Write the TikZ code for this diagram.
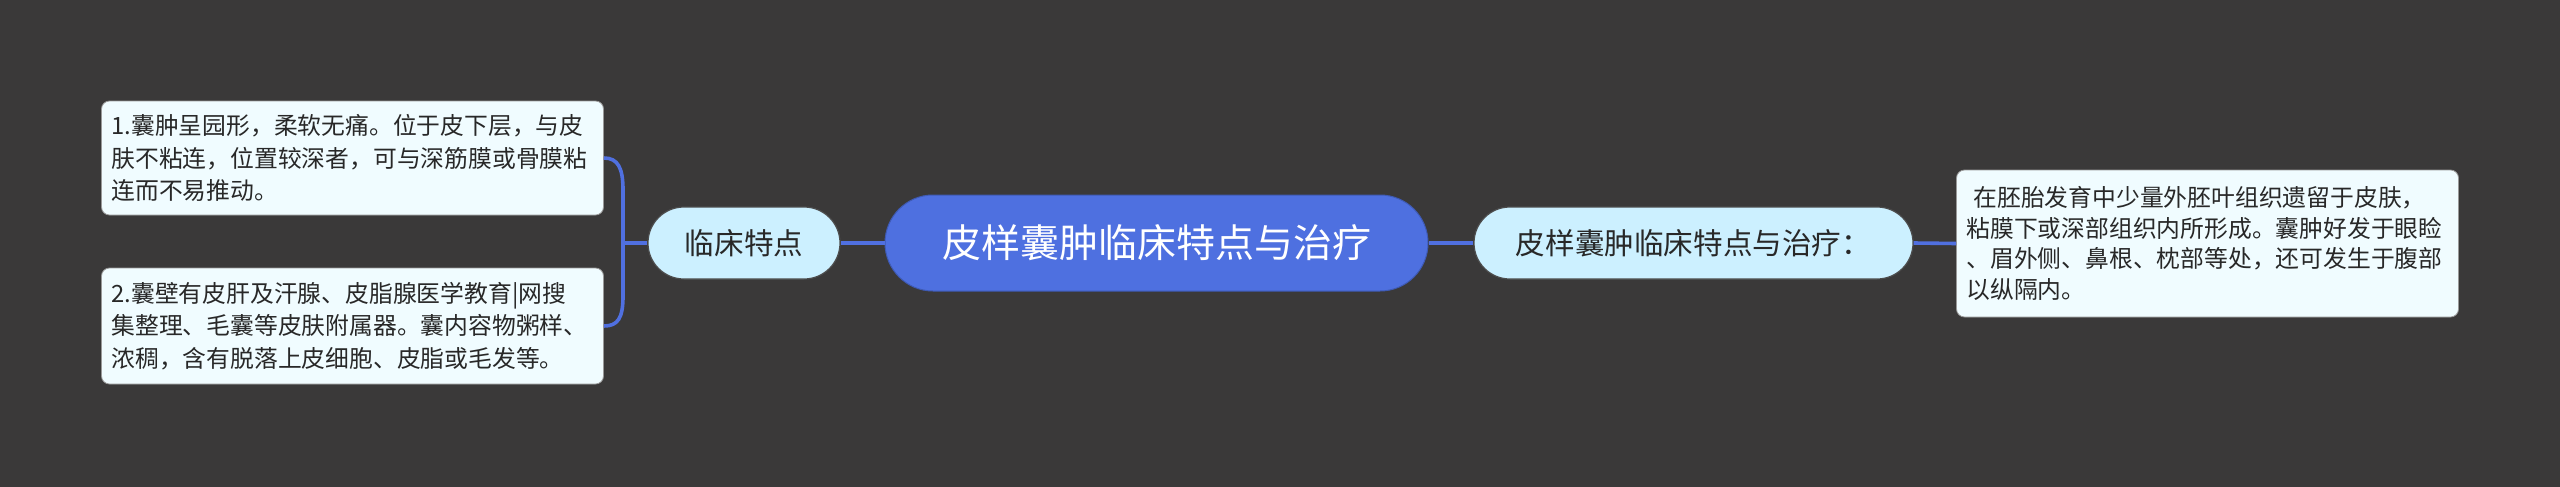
\documentclass[tikz,border=0pt]{standalone}
\usepackage{fontspec}
\setmainfont{Noto Sans CJK SC}
\definecolor{bg}{RGB}{58,57,57}
\definecolor{rootblue}{RGB}{78,112,224}
\definecolor{linkblue}{RGB}{80,112,224}
\definecolor{topicfill}{RGB}{204,240,255}
\definecolor{leaffill}{RGB}{240,252,255}
\definecolor{txtdark}{RGB}{40,40,40}
\begin{document}
\begin{tikzpicture}[x=0.5pt,y=-0.5pt,
  rootbox/.style={fill=rootblue, draw=rootblue!80!black, line width=0.5pt, rounded corners=24pt,
    minimum width=271.5pt, minimum height=48pt, inner sep=0pt, text=white,
    font=\fontsize{19.5pt}{23pt}\selectfont},
  topicbox/.style={fill=topicfill, draw=black!70, line width=0.6pt, rounded corners=18pt,
    minimum height=36pt, inner sep=0pt, text=txtdark,
    font=\fontsize{14.8pt}{18pt}\selectfont},
  leafbox/.style={fill=leaffill, draw=black!40, line width=0.4pt, rounded corners=4pt,
    text width=241pt, inner xsep=5pt, inner ysep=0pt, align=left, text=txtdark,
    minimum width=250.5pt, font=\fontsize{11.9pt}{16.3pt}\selectfont},
  link/.style={draw=linkblue, line width=1.8pt}
]
\useasboundingbox[fill=bg] (0,0) rectangle (2560,487);

\node[rootbox] (root) at (1156.5,243) {皮样囊肿临床特点与治疗};
\node[topicbox, minimum width=96pt] (lc) at (744,243) {临床特点};
\node[topicbox, minimum width=219.5pt] (rt) at (1693.5,243) {皮样囊肿临床特点与治疗：};

\node[leafbox, minimum height=57pt] (b1) at (352.5,158)
  {1.囊肿呈园形，柔软无痛。位于皮下层，与皮\\肤不粘连，位置较深者，可与深筋膜或骨膜粘\\连而不易推动。};
\node[leafbox, minimum height=58pt] (b2) at (352.5,326)
  {2.囊壁有皮肝及汗腺、皮脂腺医学教育|网搜\\集整理、毛囊等皮肤附属器。囊内容物粥样、\\浓稠，含有脱落上皮细胞、皮脂或毛发等。};
\node[leafbox, minimum height=73.5pt, font=\fontsize{11.9pt}{15.4pt}\selectfont] (b3) at (2207.5,243.5)
  {\hspace*{3.5pt}在胚胎发育中少量外胚叶组织遗留于皮肤，\\粘膜下或深部组织内所形成。囊肿好发于眼睑\\、眉外侧、鼻根、枕部等处，还可发生于腹部\\以纵隔内。};

\coordinate (jn) at (623,243);
\path[link] (root.west) -- (lc.east);
\path[link] (root.east) -- (rt.west);
\path[link] (rt.east) -- (b3.west);
\path[link] (lc.west) -- (jn);
\path[link] (b1.east) .. controls (618,158) and (623,168) .. (623,190) -- (623,296) .. controls (623,318) and (618,326) .. (b2.east);
\end{tikzpicture}
\end{document}
